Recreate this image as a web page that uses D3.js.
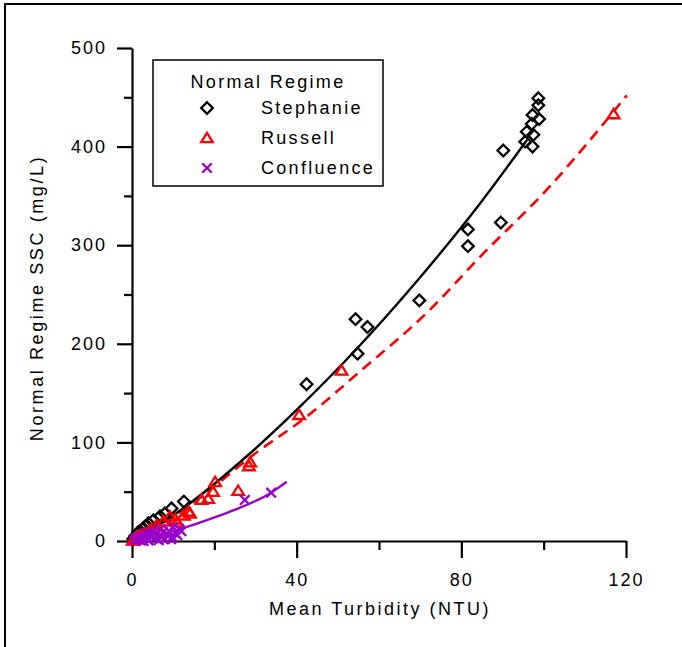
<!DOCTYPE html>
<html>
<head>
<meta charset="utf-8">
<script src="https://cdn.jsdelivr.net/npm/d3@7"></script>
<style>
  html, body { margin: 0; padding: 0; background: #fff; }
  svg { display: block; }
  text { font-family: "Liberation Sans", Arial, sans-serif; fill: #000; }
</style>
</head>
<body>
<svg id="chart" width="682" height="647"></svg>
<script>
// Normal regime SSC vs mean turbidity, three sites

var xTicks = [0, 40, 80, 120];
var xMinor = [20, 60, 100];
var yTicks = [0, 100, 200, 300, 400, 500];
var yMinor = [50, 150, 250, 350, 450];

var seriesNames = ["Stephanie", "Russell", "Confluence"];

// [turbidity NTU, SSC mg/L]
var stephanie = [
  [98.7, 449], [98.7, 442], [97.3, 432], [98.9, 428], [97.1, 423],
  [95.9, 415], [97.5, 412], [95.5, 405], [97.3, 400], [90.2, 396],
  [89.6, 323], [81.6, 316], [81.6, 299], [69.8, 244], [54.3, 225],
  [57.2, 217], [54.8, 190], [42.4, 159], [12.6, 40], [9.6, 33],
  [8.0, 28], [6.8, 25], [5.2, 21], [4.0, 18], [3.3, 15], [2.7, 13],
  [2.0, 10], [1.5, 9], [0.8, 5], [0.3, 2]
];
var russell = [
  [117, 433], [50.9, 173], [40.6, 128], [28.7, 80], [28.4, 76],
  [25.8, 51], [20.2, 60], [19.7, 50], [18.5, 43], [16.9, 42],
  [14.1, 28], [13.7, 30], [12.6, 26], [11, 19], [10.5, 22],
  [9.2, 25], [7.6, 20], [6, 16], [4.5, 12], [3, 8], [2, 6],
  [1.1, 4], [0.5, 1], [0.2, 0.5], [1.5, 2], [0.8, 3]
];
var confluence = [
  [33.8, 49], [27.4, 41.6], [11.5, 12], [10.5, 8], [9.8, 4], [9, 10],
  [8.5, 6], [8, 2], [7.5, 9], [7, 5], [6.5, 1], [6, 7], [5.5, 3],
  [5, 10], [4.5, 6], [4, 2], [3.5, 8], [3, 4], [2.5, 1], [2, 5],
  [1.5, 2], [1, 3], [0.5, 0.5], [10, 14], [11, 6], [12, 10],
  [9.5, 2], [6.8, 12], [4, 0.5], [2.8, 0]
];

// fitted curves, points
var stephanieFit = [[0, 0], [11.7, 31], [28.7, 89], [40, 133], [54.6, 195], [69.5, 265], [84.5, 342], [96, 407]];
var russellFit = [[0, 0], [14, 36], [30, 89], [42.4, 126], [55.4, 172], [72, 233], [84.5, 288], [100.7, 356], [120.2, 452]];
var confluenceFit = [[0, 0], [10.8, 11], [21.4, 26], [24.6, 31], [33.8, 49], [37.6, 60]];

var svg = d3.select("#chart");

var x = d3.scaleLinear().domain([0, 120]).range([132, 626]);
var y = d3.scaleLinear().domain([0, 500]).range([541, 48]);

// --- Frame (top + left only visible) ---
svg.append("path")
  .attr("d", "M5,647 L5,4 L682,4")
  .attr("fill", "none")
  .attr("stroke", "#000")
  .attr("stroke-width", 2);

// --- Axes ---
function styleAxis(g) {
  g.select(".domain").attr("stroke", "#000").attr("stroke-width", 2.2);
  g.selectAll(".tick line").attr("stroke", "#000").attr("stroke-width", 2.2);
  g.selectAll(".tick text")
    .attr("font-family", "Liberation Sans, Arial, sans-serif")
    .attr("font-size", "18px")
    .attr("letter-spacing", "2px")
    .attr("fill", "#000");
}

var yAxis = svg.append("g")
  .attr("transform", "translate(" + x(0) + ",0)")
  .call(d3.axisLeft(y).tickValues(yTicks).tickSize(15).tickSizeOuter(0).tickPadding(10));
styleAxis(yAxis);

svg.append("g")
  .attr("transform", "translate(" + x(0) + ",0)")
  .call(d3.axisLeft(y).tickValues(yMinor).tickSize(8).tickSizeOuter(0).tickFormat(""))
  .call(function (g) { g.select(".domain").remove(); styleAxis(g); });

var xAxis = svg.append("g")
  .attr("transform", "translate(0," + y(0) + ")")
  .call(d3.axisBottom(x).tickValues(xTicks).tickSize(17).tickSizeOuter(0).tickPadding(15));
styleAxis(xAxis);

svg.append("g")
  .attr("transform", "translate(0," + y(0) + ")")
  .call(d3.axisBottom(x).tickValues(xMinor).tickSize(9).tickSizeOuter(0).tickFormat(""))
  .call(function (g) { g.select(".domain").remove(); styleAxis(g); });

// --- Axis titles ---
svg.append("text")
  .attr("x", 380)
  .attr("y", 615)
  .attr("text-anchor", "middle")
  .attr("font-size", "18px")
  .attr("letter-spacing", "2.5px")
  .text("Mean Turbidity (NTU)");

svg.append("text")
  .attr("transform", "translate(43,298) rotate(-90)")
  .attr("text-anchor", "middle")
  .attr("font-size", "18px")
  .attr("letter-spacing", "2.6px")
  .text("Normal Regime SSC (mg/L)");

// --- Fit curves ---
var line = d3.line()
  .x(function (d) { return x(d[0]); })
  .y(function (d) { return y(d[1]); })
  .curve(d3.curveMonotoneX);

svg.append("path").datum(russellFit)
  .attr("d", line).attr("fill", "none")
  .attr("stroke", "#ff0000").attr("stroke-width", 2.6)
  .attr("stroke-dasharray", "11,7");

svg.append("path").datum(stephanieFit)
  .attr("d", line).attr("fill", "none")
  .attr("stroke", "#000").attr("stroke-width", 2.4);

svg.append("path").datum(confluenceFit)
  .attr("d", line).attr("fill", "none")
  .attr("stroke", "#9900cc").attr("stroke-width", 2.4);

// --- Markers ---
var MARK = {
  Stephanie: { d: "M0,-5.8L5.8,0L0,5.8L-5.8,0Z", color: "#000" },
  Russell: { d: "M0,-5.2L5.8,4.2L-5.8,4.2Z", color: "#ff0000" },
  Confluence: { d: "M-4.8,-4.8L4.8,4.8M-4.8,4.8L4.8,-4.8", color: "#9900cc" }
};

function drawPoints(data, name) {
  var m = MARK[name];
  svg.append("g").selectAll("path")
    .data(data)
    .enter().append("path")
    .attr("transform", function (d) { return "translate(" + x(d[0]) + "," + y(d[1]) + ")"; })
    .attr("d", m.d)
    .attr("fill", "none")
    .attr("stroke", m.color)
    .attr("stroke-width", 2.3);
}

drawPoints(stephanie, "Stephanie");
drawPoints(russell, "Russell");
drawPoints(confluence, "Confluence");

// --- Legend ---
var lg = svg.append("g");
lg.append("rect")
  .attr("x", 153).attr("y", 60)
  .attr("width", 230).attr("height", 126)
  .attr("fill", "#fff")
  .attr("stroke", "#000").attr("stroke-width", 1.5);

lg.append("text")
  .attr("x", 268).attr("y", 88)
  .attr("text-anchor", "middle")
  .attr("font-size", "18px")
  .attr("letter-spacing", "2.3px")
  .text("Normal Regime");

seriesNames.forEach(function (name, i) {
  var ry = 108 + i * 30;
  var m = MARK[name];
  lg.append("path")
    .attr("transform", "translate(207," + ry + ")")
    .attr("d", m.d)
    .attr("fill", "none")
    .attr("stroke", m.color)
    .attr("stroke-width", 2.3);
  lg.append("text")
    .attr("x", 261).attr("y", ry + 6)
    .attr("font-size", "18px")
    .attr("letter-spacing", "2.3px")
    .text(name);
});
</script>
</body>
</html>
